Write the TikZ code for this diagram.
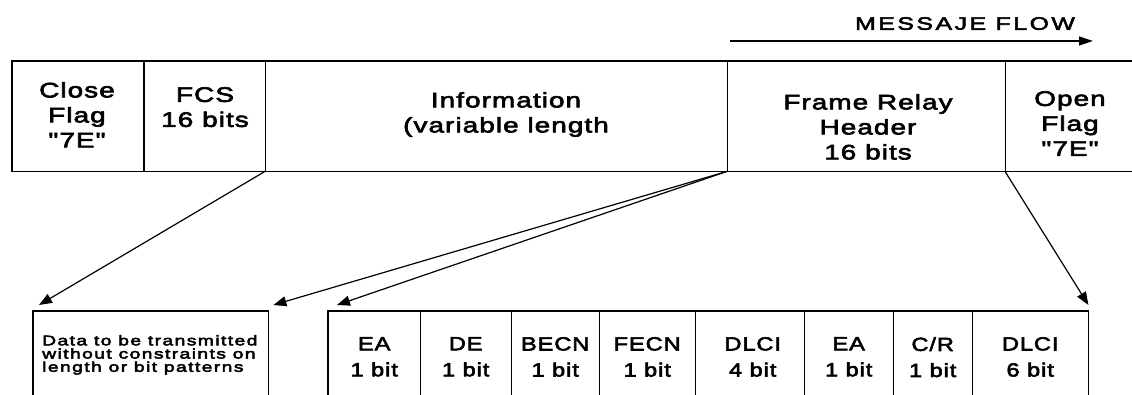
\documentclass[tikz,border=0pt]{standalone}
\usepackage{fontspec}
\setmainfont{Liberation Sans}
% wide, heavy sans faces for the frame diagram
\newfontfamily\hdrfont[FakeStretch=1.33,LetterSpace=5,FakeBold=3]{Liberation Sans}
\newfontfamily\cellfont[FakeStretch=1.24,LetterSpace=5,FakeBold=3]{Liberation Sans}
\newfontfamily\notefont[FakeStretch=1.38,LetterSpace=10,FakeBold=3.5]{Liberation Sans}
\newfontfamily\flowfont[FakeStretch=1.38,LetterSpace=14,FakeBold=3]{Liberation Sans}
\usetikzlibrary{arrows.meta}
\begin{document}
\begin{tikzpicture}[x=1pt,y=-1pt,
  frame/.style={line width=1.2pt, line join=miter},
  cell/.style={rectangle, inner sep=0pt, anchor=north west},
  hdr/.style={anchor=north, align=center, inner sep=0pt,
              font=\hdrfont\fontsize{21}{25}\selectfont},
  fld/.style={anchor=north, align=center, inner sep=0pt,
              font=\cellfont\fontsize{19}{26}\selectfont},
  note/.style={anchor=north west, align=left, inner sep=0pt,
               font=\notefont\fontsize{14}{13.2}\selectfont},
  flow/.style={anchor=north, inner sep=0pt,
               font=\flowfont\fontsize{18}{20}\selectfont},
  link/.style={line width=1.2pt, -{Triangle[length=13pt,width=10pt]}},
  flowarrow/.style={line width=1.2pt, -{Triangle[length=14pt,width=9pt]}}]
\useasboundingbox (0,0) rectangle (1132,395);

% ---- message flow direction ----
\node[flow] (tFlow) at (965,17) {MESSAJE FLOW};
\coordinate (flowA) at (730,41);
\coordinate (flowB) at (1093,41);
\draw[flowarrow] (flowA) -- (flowB);

% ---- frame fields ----
\node[cell, minimum width=131.6, minimum height=110] (cClose) at (12,61) {};
\node[cell, minimum width=121.4, minimum height=110] (cFCS)   at (143.6,61) {};
\node[cell, minimum width=462,   minimum height=110] (cInfo)  at (265,61) {};
\node[cell, minimum width=278,   minimum height=110] (cFRH)   at (727,61) {};
\node[cell, minimum width=127,   minimum height=110] (cOpen)  at (1005,61) {};

\draw[frame] (cOpen.north east) -- (cClose.north west) -- (cClose.south west) -- (cOpen.south east);
\foreach \c in {cClose,cFCS,cInfo,cFRH}
  \draw[frame] (\c.north east) -- (\c.south east);

\node[hdr] (tClose) at (77,82)   {Close\\Flag\\"7E"};
\node[hdr] (tFCS)   at (205,87)  {FCS\\16 bits};
\node[hdr] (tInfo)  at (506,92)  {Information\\(variable length};
\node[hdr] (tFRH)   at (868,94)  {Frame Relay\\Header\\16 bits};
\node[hdr] (tOpen)  at (1070,91) {Open\\Flag\\"7E"};

% ---- information field detail ----
\node[cell, minimum width=235, minimum height=84] (cData) at (33,311) {};
\draw[frame] (cData.south west) -- (cData.north west) -- (cData.north east) -- (cData.south east);
\node[note] (tData) at (42,335) {Data to be transmitted\\without constraints on\\length or bit patterns};

% ---- header field detail ----
\node[cell, minimum width=92,  minimum height=84] (bEA)    at (328,311) {};
\node[cell, minimum width=91,  minimum height=84] (bDE)    at (420,311) {};
\node[cell, minimum width=88,  minimum height=84] (bBECN)  at (511,311) {};
\node[cell, minimum width=96,  minimum height=84] (bFECN)  at (599,311) {};
\node[cell, minimum width=109, minimum height=84] (bDLCIa) at (695,311) {};
\node[cell, minimum width=89,  minimum height=84] (bEAb)   at (804,311) {};
\node[cell, minimum width=79,  minimum height=84] (bCR)    at (893,311) {};
\node[cell, minimum width=116, minimum height=84] (bDLCIb) at (972,311) {};

\draw[frame] (bEA.south west) -- (bEA.north west) -- (bDLCIb.north east) -- (bDLCIb.south east);
\foreach \c in {bEA,bDE,bBECN,bFECN,bDLCIa,bEAb,bCR}
  \draw[frame] (\c.north east) -- (\c.south east);

\coordinate (fieldRow) at (0,337);
\node[fld] (tEA)    at (bEA.north |- fieldRow)    {EA\\1 bit};
\node[fld] (tDE)    at (bDE.north |- fieldRow)    {DE\\1 bit};
\node[fld] (tBECN)  at (bBECN.north |- fieldRow)  {BECN\\1 bit};
\node[fld] (tFECN)  at (bFECN.north |- fieldRow)  {FECN\\1 bit};
\node[fld] (tDLCIa) at ([xshift=3]bDLCIa.north |- fieldRow) {DLCI\\4 bit};
\node[fld] (tEAb)   at (bEAb.north |- fieldRow)   {EA\\1 bit};
\node[fld] (tCR)    at (bCR.north |- fieldRow)    {C/R\\1 bit};
\node[fld] (tDLCIb) at (bDLCIb.north |- fieldRow) {DLCI\\6 bit};

% ---- expansion arrows ----
\draw[link] (cInfo.south west) -- ([shift={(6,-6)}]cData.north west);
\draw[link] (cFRH.south west) -- ([shift={(5,-6)}]cData.north east);
\draw[link] (cFRH.south west) -- ([shift={(9,-6)}]bEA.north west);
\draw[link] (cOpen.south west) -- ([shift={(0,-6)}]bDLCIb.north east);
\end{tikzpicture}
\end{document}
